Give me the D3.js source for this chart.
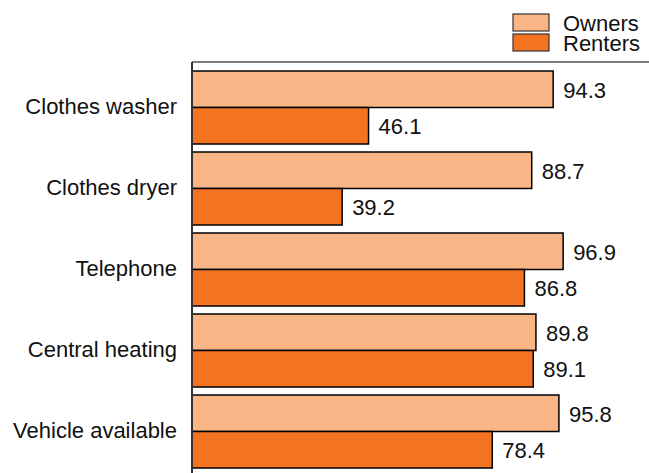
<!DOCTYPE html>
<html>
<head>
    <script src="https://d3js.org/d3.v7.min.js"></script>
    <style>
        body { margin: 0; background: #fff; }
        text { font-family: "Liberation Sans", Arial, sans-serif; fill: #111; font-size: 22px; }
    </style>
</head>
<body>
    <div id="chart"></div>
    <script>
        // Data
        var categories = ["Clothes washer", "Clothes dryer", "Telephone", "Central heating", "Vehicle available"];
        var owners = [94.3, 88.7, 96.9, 89.8, 95.8];
        var renters = [46.1, 39.2, 86.8, 89.1, 78.4];
        var seriesNames = ["Owners", "Renters"];
        var colors = ["#f9b585", "#f47321"];

        var width = 649, height = 473;
        var plotLeft = 192, plotTop = 62;

        var svg = d3.select("#chart")
            .append("svg")
            .attr("width", width)
            .attr("height", height);

        var x = d3.scaleLinear()
            .domain([0, 100])
            .range([plotLeft, plotLeft + 383]);

        var y = d3.scaleBand()
            .domain(categories)
            .range([71, 468])
            .paddingInner(8 / 81)
            .paddingOuter(0);

        var y1 = d3.scaleBand()
            .domain(seriesNames)
            .range([0, y.bandwidth()]);

        var rows = categories.map(function(c, i) {
            return { cat: c, values: [owners[i], renters[i]] };
        });

        var groups = svg.selectAll(".group")
            .data(rows)
            .enter()
            .append("g")
            .attr("class", "group")
            .attr("transform", function(d) { return "translate(0," + y(d.cat) + ")"; });

        groups.selectAll("rect")
            .data(function(d) { return d.values.map(function(v, j) { return { s: seriesNames[j], v: v, j: j }; }); })
            .enter()
            .append("rect")
            .attr("x", x(0))
            .attr("y", function(d) { return y1(d.s); })
            .attr("width", function(d) { return x(d.v) - x(0); })
            .attr("height", y1.bandwidth())
            .attr("fill", function(d) { return colors[d.j]; })
            .attr("stroke", "#000")
            .attr("stroke-width", 1.5);

        groups.selectAll(".val")
            .data(function(d) { return d.values.map(function(v, j) { return { s: seriesNames[j], v: v }; }); })
            .enter()
            .append("text")
            .attr("class", "val")
            .attr("x", function(d) { return x(d.v) + 10; })
            .attr("y", function(d) { return y1(d.s) + y1.bandwidth() / 2 + 1; })
            .attr("dy", "0.35em")
            .text(function(d) { return d.v.toFixed(1); });

        // category labels
        svg.selectAll(".cat")
            .data(categories)
            .enter()
            .append("text")
            .attr("class", "cat")
            .attr("x", plotLeft - 15)
            .attr("y", function(d) { return y(d) + y.bandwidth() / 2; })
            .attr("dy", "0.3em")
            .attr("text-anchor", "end")
            .text(function(d) { return d; });

        // frame lines
        svg.append("line")
            .attr("x1", plotLeft).attr("x2", width)
            .attr("y1", plotTop).attr("y2", plotTop)
            .attr("stroke", "#555").attr("stroke-width", 1.5);
        svg.append("line")
            .attr("x1", plotLeft).attr("x2", plotLeft)
            .attr("y1", plotTop).attr("y2", height)
            .attr("stroke", "#333").attr("stroke-width", 2);

        // legend
        var legend = svg.selectAll(".legend")
            .data(seriesNames)
            .enter()
            .append("g")
            .attr("class", "legend")
            .attr("transform", function(d, i) { return "translate(513," + (14 + i * 20) + ")"; });
        legend.append("rect")
            .attr("width", 36).attr("height", 17)
            .attr("fill", function(d, i) { return colors[i]; })
            .attr("stroke", "#333").attr("stroke-width", 1.2);
        legend.append("text")
            .attr("x", 50).attr("y", 9)
            .attr("dy", "0.35em")
            .text(function(d) { return d; });
    </script>
</body>
</html>
